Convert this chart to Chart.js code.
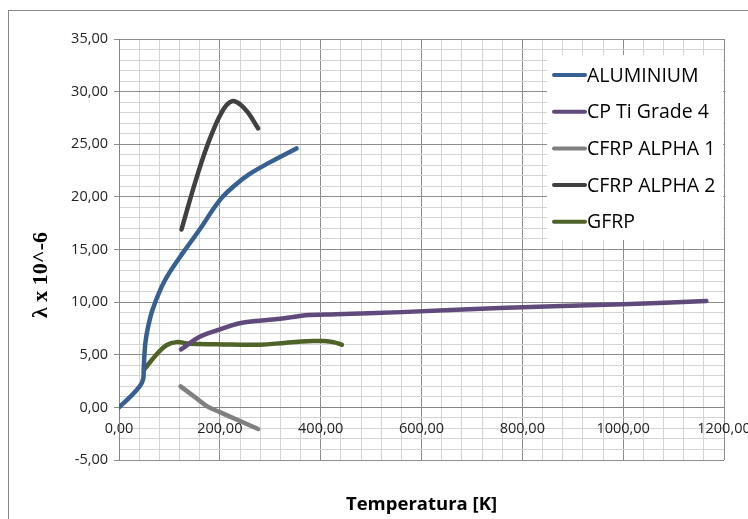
<!DOCTYPE html>
<html>
<head>
<meta charset="utf-8">
<script src="https://cdn.jsdelivr.net/npm/chart.js@4.4.1/dist/chart.umd.min.js"></script>
<style>
  html, body { margin: 0; padding: 0; background: #fff; }
</style>
</head>
<body>
<canvas id="lambdaChart" width="748" height="519"></canvas>
<script>
// series names and colours
const seriesNames = ["ALUMINIUM", "CP Ti Grade 4", "CFRP ALPHA 1", "CFRP ALPHA 2", "GFRP"];
const seriesColors = ["#376092", "#604a7b", "#808080", "#404040", "#4f6228"];

// temperature [K] and lambda x 10^-6 for each material
const aluminiumT = [0, 20, 41, 48, 49, 52, 57, 66, 84, 100, 127, 160, 200, 230, 260, 300, 352];
const aluminiumL = [0, 0.9, 2.0, 2.7, 3.7, 6.0, 7.5, 9.2, 11.4, 12.8, 14.7, 16.9, 19.7, 21.1, 22.2, 23.3, 24.6];

const tiGrade4T = [123, 160, 200, 235, 270, 305, 340, 370, 430, 560, 755, 1000, 1165];
const tiGrade4L = [5.5, 6.7, 7.4, 7.95, 8.2, 8.35, 8.55, 8.75, 8.85, 9.05, 9.45, 9.8, 10.1];

const cfrp1T = [122, 150, 175, 200, 240, 276];
const cfrp1L = [2.0, 1.0, 0.1, -0.45, -1.3, -2.05];

const cfrp2T = [124, 140, 155, 170, 185, 200, 213, 226, 240, 256, 276];
const cfrp2L = [16.9, 19.6, 22.0, 24.2, 26.1, 27.7, 28.7, 29.1, 28.8, 28.0, 26.5];

const gfrpT = [50, 74, 94, 114, 140, 193, 279, 332, 385, 405, 425, 442];
const gfrpL = [3.6, 5.0, 5.9, 6.2, 6.05, 6.0, 5.95, 6.15, 6.3, 6.3, 6.2, 5.95];

// labelled axis ticks
const xTicks = [0, 200, 400, 600, 800, 1000, 1200];
const yTicks = [-5, 0, 5, 10, 15, 20, 25, 30, 35];

const allT = [aluminiumT, tiGrade4T, cfrp1T, cfrp2T, gfrpT];
const allL = [aluminiumL, tiGrade4L, cfrp1L, cfrp2L, gfrpL];

const fmt = v => v.toFixed(2).replace(".", ",");

// major ticks plus 4 unlabelled minor ticks between each pair
function withMinor(major) {
  const out = [];
  for (let i = 0; i < major.length; i++) {
    out.push({ value: major[i], major: true });
    if (i < major.length - 1) {
      const step = (major[i + 1] - major[i]) / 5;
      for (let k = 1; k < 5; k++) out.push({ value: major[i] + step * k, major: false });
    }
  }
  return out;
}

const gridColor = c => (c.tick && c.tick.major ? "#8c8c8c" : "#d4d4d4");
const tickColor = c => (c.tick && c.tick.major ? "#8c8c8c" : "rgba(0,0,0,0)");

const datasets = seriesNames.map((name, i) => ({
  label: name,
  data: allT[i].map((t, j) => ({ x: t, y: allL[i][j] })),
  borderColor: seriesColors[i],
  backgroundColor: seriesColors[i],
  borderWidth: 4.5,
  pointRadius: 0,
  showLine: true,
  tension: 0.4,
  borderCapStyle: "round",
  borderJoinStyle: "round"
}));

// frame round the whole chart, axis titles and the legend box
const decorations = {
  id: "decorations",
  beforeDraw(chart) {
    const ctx = chart.ctx;
    ctx.save();
    ctx.fillStyle = "#fff";
    ctx.fillRect(0, 0, chart.width, chart.height);
    ctx.strokeStyle = "#868686";
    ctx.lineWidth = 1;
    ctx.strokeRect(8.5, 10.5, 900, 700);
    ctx.restore();
  },
  afterDatasetsDraw(chart) {
    const ctx = chart.ctx;
    const area = chart.chartArea;
    ctx.save();
    ctx.fillStyle = "#000";
    ctx.textAlign = "center";
    ctx.textBaseline = "middle";
    ctx.font = "bold 18.5px 'Open Sans'";
    ctx.fillText("Temperatura [K]", (area.left + area.right) / 2, 505);

    ctx.save();
    ctx.translate(41, 275);
    ctx.rotate(-Math.PI / 2);
    ctx.font = "bold 22px 'Liberation Serif'";
    ctx.fillText("λ x 10^-6", 0, 0);
    ctx.restore();

    ctx.fillStyle = "#fff";
    ctx.fillRect(547, 55, 176, 185);
    ctx.font = "19.5px 'Open Sans'";
    ctx.textAlign = "left";
    chart.data.datasets.forEach((ds, i) => {
      const y = 75 + i * 36.7;
      ctx.strokeStyle = ds.borderColor;
      ctx.lineWidth = 4;
      ctx.lineCap = "round";
      ctx.beginPath();
      ctx.moveTo(554, y);
      ctx.lineTo(585, y);
      ctx.stroke();
      ctx.fillStyle = "#000";
      ctx.fillText(ds.label, 587, y + 1);
    });
    ctx.restore();
  }
};

new Chart(document.getElementById("lambdaChart"), {
  type: "scatter",
  data: { datasets },
  options: {
    responsive: false,
    animation: false,
    layout: { padding: { top: 39, right: 24, bottom: 59, left: 0 } },
    plugins: { legend: { display: false }, tooltip: { enabled: false } },
    scales: {
      x: {
        type: "linear",
        position: { y: 0 },
        min: xTicks[0],
        max: xTicks[xTicks.length - 1],
        afterBuildTicks: s => { s.ticks = withMinor(xTicks); },
        // the last label may run off the right edge
        afterFit: s => { s.paddingLeft = 0; s.paddingRight = 0; },
        grid: { color: gridColor, tickColor: tickColor, tickLength: 5, drawTicks: true },
        border: { color: "#868686", width: 1 },
        ticks: {
          autoSkip: false,
          maxRotation: 0,
          padding: 8,
          color: "#222",
          font: { family: "'Open Sans'", size: 14.5 },
          callback: (v, i, t) => (t[i].major ? fmt(v) : "")
        }
      },
      y: {
        type: "linear",
        min: yTicks[0],
        max: yTicks[yTicks.length - 1],
        afterBuildTicks: s => { s.ticks = withMinor(yTicks); },
        afterFit: s => { s.width = 119; },
        grid: { color: gridColor, tickColor: tickColor, tickLength: 5, drawTicks: true },
        border: { color: "#868686", width: 1 },
        ticks: {
          autoSkip: false,
          padding: 6,
          color: "#222",
          font: { family: "'Open Sans'", size: 14.5 },
          callback: (v, i, t) => (t[i].major ? fmt(v) : "")
        }
      }
    }
  },
  plugins: [decorations]
});
</script>
</body>
</html>
